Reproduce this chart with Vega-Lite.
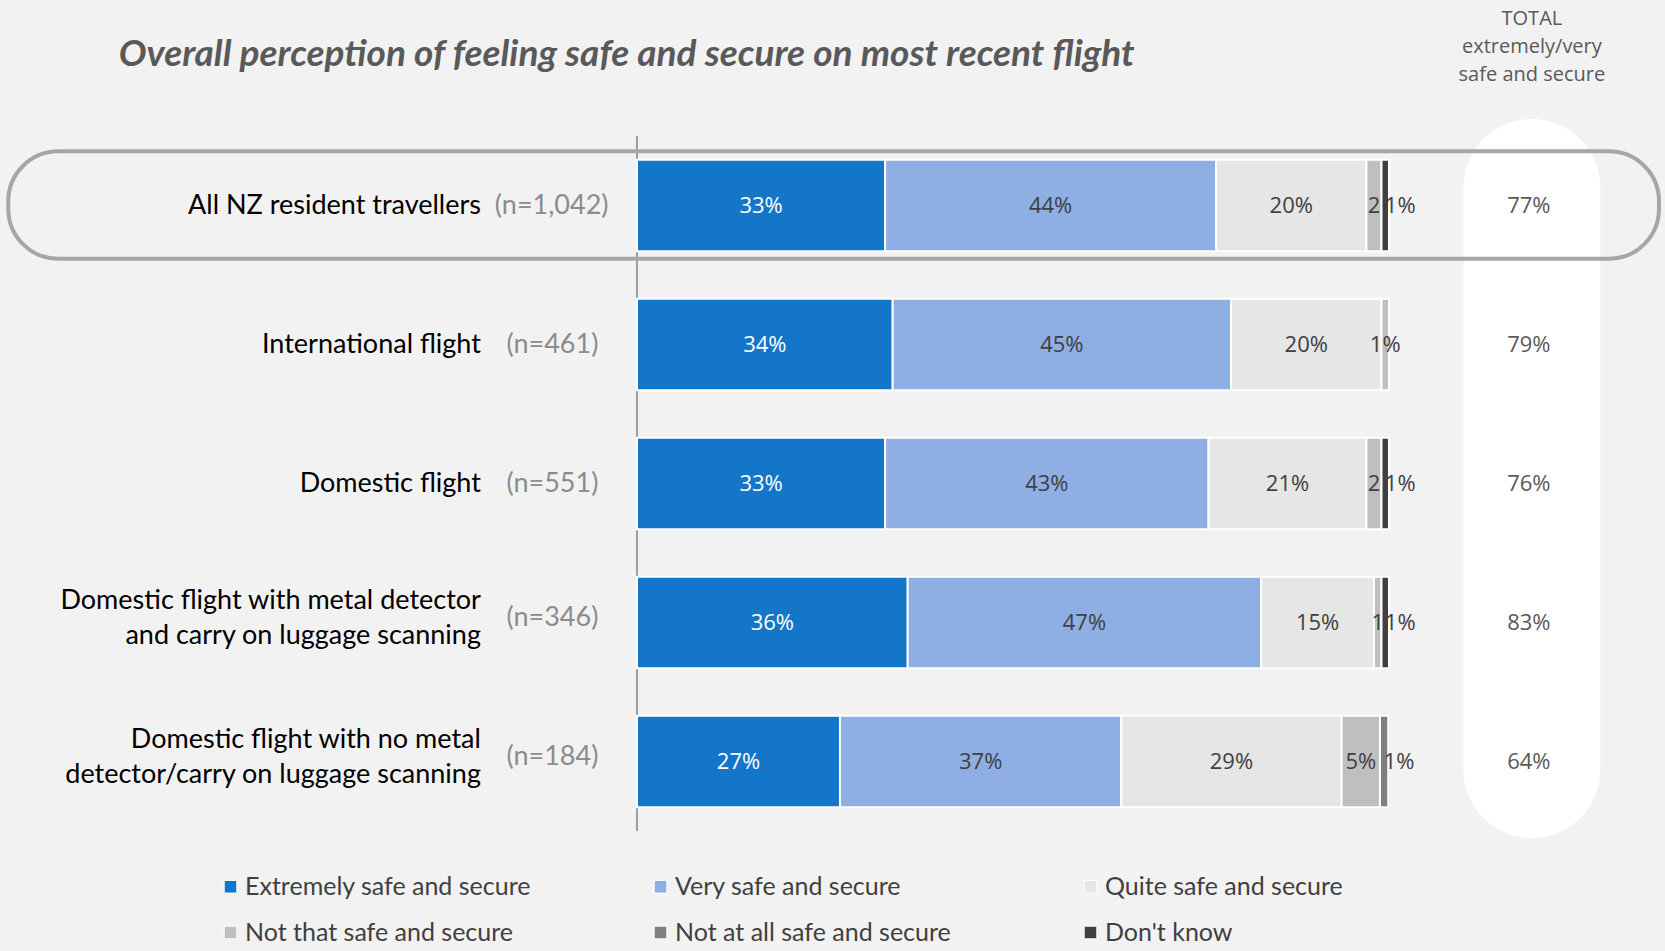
{
  "$schema": "https://vega.github.io/schema/vega-lite/v6.json",
  "width": 1665,
  "height": 695,
  "autosize": {"type": "none"},
  "padding": {"left": 0, "top": 136, "right": 0, "bottom": 120},
  "background": "#F2F2F2",
  "config": {"view": {"stroke": null}},
  "datasets": {
    "segments": [
      {"row": "All NZ resident travellers", "cat": "Extremely safe and secure", "k": 1, "value": 33},
      {"row": "All NZ resident travellers", "cat": "Very safe and secure", "k": 2, "value": 44},
      {"row": "All NZ resident travellers", "cat": "Quite safe and secure", "k": 3, "value": 20},
      {"row": "All NZ resident travellers", "cat": "Not that safe and secure", "k": 4, "value": 2},
      {"row": "All NZ resident travellers", "cat": "Don't know", "k": 6, "value": 1},
      {"row": "International flight", "cat": "Extremely safe and secure", "k": 1, "value": 34},
      {"row": "International flight", "cat": "Very safe and secure", "k": 2, "value": 45},
      {"row": "International flight", "cat": "Quite safe and secure", "k": 3, "value": 20},
      {"row": "International flight", "cat": "Not that safe and secure", "k": 4, "value": 1},
      {"row": "Domestic flight", "cat": "Extremely safe and secure", "k": 1, "value": 33},
      {"row": "Domestic flight", "cat": "Very safe and secure", "k": 2, "value": 43},
      {"row": "Domestic flight", "cat": "Quite safe and secure", "k": 3, "value": 21},
      {"row": "Domestic flight", "cat": "Not that safe and secure", "k": 4, "value": 2},
      {"row": "Domestic flight", "cat": "Don't know", "k": 6, "value": 1},
      {"row": "Domestic flight with metal detector\nand carry on luggage scanning", "cat": "Extremely safe and secure", "k": 1, "value": 36},
      {"row": "Domestic flight with metal detector\nand carry on luggage scanning", "cat": "Very safe and secure", "k": 2, "value": 47},
      {"row": "Domestic flight with metal detector\nand carry on luggage scanning", "cat": "Quite safe and secure", "k": 3, "value": 15},
      {"row": "Domestic flight with metal detector\nand carry on luggage scanning", "cat": "Not that safe and secure", "k": 4, "value": 1},
      {"row": "Domestic flight with metal detector\nand carry on luggage scanning", "cat": "Don't know", "k": 6, "value": 1},
      {"row": "Domestic flight with no metal\ndetector/carry on luggage scanning", "cat": "Extremely safe and secure", "k": 1, "value": 27},
      {"row": "Domestic flight with no metal\ndetector/carry on luggage scanning", "cat": "Very safe and secure", "k": 2, "value": 37.4},
      {"row": "Domestic flight with no metal\ndetector/carry on luggage scanning", "cat": "Quite safe and secure", "k": 3, "value": 29.3},
      {"row": "Domestic flight with no metal\ndetector/carry on luggage scanning", "cat": "Not that safe and secure", "k": 4, "value": 5.1},
      {"row": "Domestic flight with no metal\ndetector/carry on luggage scanning", "cat": "Not at all safe and secure", "k": 5, "value": 1.1}
    ],
    "rows": [
      {"row": "All NZ resident travellers", "n": "(n=1,042)", "total": 77, "lines": 1},
      {"row": "International flight", "n": "(n=461)", "total": 79, "lines": 1},
      {"row": "Domestic flight", "n": "(n=551)", "total": 76, "lines": 1},
      {"row": "Domestic flight with metal detector\nand carry on luggage scanning", "n": "(n=346)", "total": 83, "lines": 2},
      {"row": "Domestic flight with no metal\ndetector/carry on luggage scanning", "n": "(n=184)", "total": 64, "lines": 2}
    ]
  },
  "layer": [
    {
      "data": {"values": [{}]},
      "mark": {"type": "rect", "fill": "#FFFFFF", "cornerRadius": 69},
      "encoding": {
        "x": {"datum": 109.9, "type": "quantitative", "scale": {"domain": [-84.7, 136.7], "nice": false, "zero": false}, "axis": null},
        "x2": {"datum": 128.1},
        "y": {"datum": "All NZ resident travellers", "type": "nominal", "bandPosition": -0.443,
              "scale": {"domain": ["All NZ resident travellers", "International flight", "Domestic flight", "Domestic flight with metal detector\nand carry on luggage scanning", "Domestic flight with no metal\ndetector/carry on luggage scanning"], "paddingInner": 0.34, "paddingOuter": 0.17},
              "axis": null},
        "y2": {"datum": "Domestic flight with no metal\ndetector/carry on luggage scanning", "bandPosition": 1.335}
      }
    },
    {
      "data": {"values": [{}]},
      "mark": {"type": "rule", "color": "#808080", "strokeWidth": 1.5},
      "encoding": {
        "x": {"datum": 0, "type": "quantitative"}
      }
    },
    {
      "data": {"name": "segments"},
      "transform": [
        {"stack": "value", "groupby": ["row"], "sort": [{"field": "k"}], "as": ["x0", "x1"]}
      ],
      "mark": {"type": "bar", "stroke": "#FFFFFF", "strokeWidth": 2},
      "encoding": {
        "x": {"field": "x0", "type": "quantitative"},
        "x2": {"field": "x1"},
        "y": {"field": "row", "type": "nominal"},
        "color": {
          "field": "cat", "type": "nominal",
          "scale": {
            "domain": ["Extremely safe and secure", "Very safe and secure", "Quite safe and secure", "Not that safe and secure", "Not at all safe and secure", "Don't know"],
            "range": ["#1376C8", "#8EAEE4", "#E6E6E6", "#BFBFBF", "#7F7F7F", "#404040"]
          },
          "legend": {
            "orient": "none", "legendX": 218, "legendY": 738, "direction": "horizontal", "columns": 3, "title": null,
            "symbolType": "square", "symbolSize": 160, "symbolStrokeColor": "#FFFFFF", "symbolStrokeWidth": 1, "symbolOpacity": 1,
            "labelFont": "Lato", "labelFontSize": 25, "labelColor": "#404040", "labelLimit": 400, "labelOffset": 2,
            "columnPadding": 116, "rowPadding": 20, "gridAlign": "all", "padding": 0
          }
        }
      }
    },
    {
      "data": {"values": [{}]},
      "mark": {"type": "rect", "fillOpacity": 0, "stroke": "#A6A6A6", "strokeWidth": 4, "cornerRadius": 50},
      "encoding": {
        "x": {"datum": -83.6, "type": "quantitative"},
        "x2": {"datum": 135.9},
        "y": {"datum": "All NZ resident travellers", "type": "nominal", "bandPosition": -0.09},
        "y2": {"datum": "All NZ resident travellers", "bandPosition": 1.08}
      }
    },
    {
      "data": {"name": "segments"},
      "transform": [
        {"stack": "value", "groupby": ["row"], "sort": [{"field": "k"}], "as": ["x0", "x1"]},
        {"joinaggregate": [{"op": "max", "field": "k", "as": "kmax"}], "groupby": ["row"]},
        {"calculate": "(datum.x0 + datum.x1) / 2", "as": "mid"},
        {"calculate": "format(datum.value, '.0f') + '%'", "as": "label"}
      ],
      "layer": [
        {
          "transform": [{"filter": "datum.k <= 3 || (datum.k == 4 && (datum.k == datum.kmax || datum.value >= 3))"}],
          "mark": {"type": "text", "font": "Open Sans", "fontSize": 22, "align": "center", "baseline": "middle"},
          "encoding": {
            "x": {"field": "mid", "type": "quantitative"},
            "y": {"field": "row", "type": "nominal"},
            "text": {"field": "label"},
            "color": {"condition": {"test": "datum.k == 1", "value": "#FFFFFF"}, "value": "#404040"}
          }
        },
        {
          "transform": [{"filter": "datum.k == 4 && datum.k < datum.kmax && datum.value < 3"}],
          "mark": {"type": "text", "font": "Open Sans", "fontSize": 22, "align": "center", "baseline": "middle", "limit": 15, "ellipsis": "\u200b", "color": "#404040"},
          "encoding": {
            "x": {"field": "mid", "type": "quantitative"},
            "y": {"field": "row", "type": "nominal"},
            "text": {"field": "label"}
          }
        },
        {
          "transform": [{"filter": "datum.k >= 5"}],
          "mark": {"type": "text", "font": "Open Sans", "fontSize": 22, "align": "center", "baseline": "middle", "dx": 15, "color": "#404040"},
          "encoding": {
            "x": {"field": "mid", "type": "quantitative"},
            "y": {"field": "row", "type": "nominal"},
            "text": {"field": "label"}
          }
        }
      ]
    },
    {
      "data": {"name": "rows"},
      "transform": [{"calculate": "datum.total + '%'", "as": "totalLabel"}],
      "layer": [
        {
          "transform": [{"filter": "datum.lines == 1"}],
          "mark": {"type": "text", "font": "Lato", "fontSize": 27, "align": "right", "baseline": "middle", "color": "#000000"},
          "encoding": {
            "x": {"datum": -20.75, "type": "quantitative"},
            "y": {"field": "row", "type": "nominal"},
            "text": {"field": "row"}
          }
        },
        {
          "transform": [{"filter": "datum.lines == 2"}],
          "mark": {"type": "text", "font": "Lato", "fontSize": 27, "align": "right", "baseline": "middle", "lineBreak": "\n", "lineHeight": 35, "dy": -22, "color": "#000000"},
          "encoding": {
            "x": {"datum": -20.75, "type": "quantitative"},
            "y": {"field": "row", "type": "nominal"},
            "text": {"field": "row"}
          }
        },
        {
          "transform": [{"filter": "datum.row != 'All NZ resident travellers' && datum.lines == 1"}],
          "mark": {"type": "text", "font": "Lato", "fontSize": 27, "align": "left", "baseline": "middle", "color": "#8C8C8C"},
          "encoding": {
            "x": {"datum": -17.35, "type": "quantitative"},
            "y": {"field": "row", "type": "nominal"},
            "text": {"field": "n"}
          }
        },
        {
          "transform": [{"filter": "datum.lines == 2"}],
          "mark": {"type": "text", "font": "Lato", "fontSize": 27, "align": "left", "baseline": "middle", "dy": -5, "color": "#8C8C8C"},
          "encoding": {
            "x": {"datum": -17.35, "type": "quantitative"},
            "y": {"field": "row", "type": "nominal"},
            "text": {"field": "n"}
          }
        },
        {
          "transform": [{"filter": "datum.row == 'All NZ resident travellers'"}],
          "mark": {"type": "text", "font": "Lato", "fontSize": 27, "align": "left", "baseline": "middle", "color": "#8C8C8C"},
          "encoding": {
            "x": {"datum": -18.9, "type": "quantitative"},
            "y": {"field": "row", "type": "nominal"},
            "text": {"field": "n"}
          }
        },
        {
          "mark": {"type": "text", "font": "Open Sans", "fontSize": 22, "align": "center", "baseline": "middle", "color": "#595959"},
          "encoding": {
            "x": {"datum": 118.6, "type": "quantitative"},
            "y": {"field": "row", "type": "nominal"},
            "text": {"field": "totalLabel"}
          }
        }
      ]
    },
    {
      "data": {"values": [{"header": "TOTAL\nextremely/very\nsafe and secure", "title": "Overall perception of feeling safe and secure on most recent flight"}]},
      "layer": [
        {
          "mark": {"type": "text", "font": "Open Sans", "fontSize": 20, "align": "center", "baseline": "middle", "lineBreak": "\n", "lineHeight": 28, "color": "#595959"},
          "encoding": {
            "x": {"datum": 119, "type": "quantitative"},
            "y": {"datum": "All NZ resident travellers", "type": "nominal", "bandPosition": -1.533},
            "text": {"field": "header"}
          }
        },
        {
          "mark": {"type": "text", "font": "Lato", "fontSize": 37, "fontStyle": "italic", "fontWeight": "bold", "align": "left", "baseline": "middle", "color": "#595959"},
          "encoding": {
            "x": {"datum": -68.9, "type": "quantitative"},
            "y": {"datum": "All NZ resident travellers", "type": "nominal", "bandPosition": -1.14},
            "text": {"field": "title"}
          }
        }
      ]
    }
  ]
}
